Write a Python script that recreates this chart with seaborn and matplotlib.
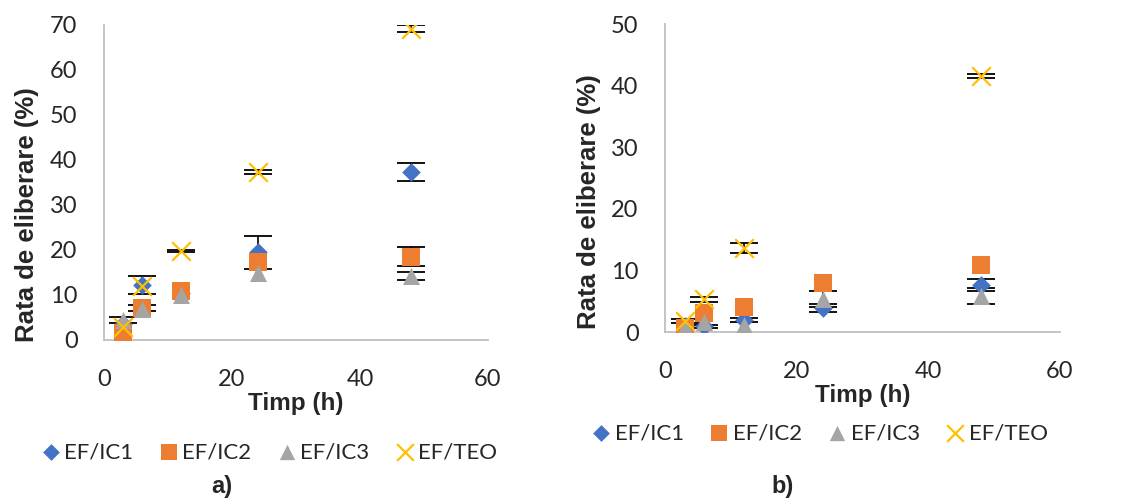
import numpy as np
import pandas as pd
import matplotlib
matplotlib.use("Agg")
import matplotlib.pyplot as plt
import seaborn as sns

# Timpi de prelevare (h)
timp = [3, 6, 12, 24, 48]
serii = ["EF/IC1", "EF/IC2", "EF/IC3", "EF/TEO"]
na = np.nan  # bara de eroare ascunsa sub marker

# Panoul a) - rata de eliberare (%) si abaterea standard
a_ic1 = [3.5, 12.3, 10.5, 19.5, 37.4]
a_ic2 = [1.5, 7.1, 10.9, 17.4, 18.5]
a_ic3 = [4.4, 6.8, 10.0, 14.9, 14.3]
a_teo = [2.8, 12.0, 19.8, 37.3, 69.2]
a_ic1_err = [na, 2.0, na, 3.7, 2.0]
a_ic2_err = [na, 0.6, na, na, 2.1]
a_ic3_err = [0.6, na, na, na, 0.9]
a_teo_err = [na, na, 0.3, 0.4, 0.7]

# Panoul b)
b_ic1 = [1.0, 0.9, 2.0, 3.9, 7.6]
b_ic2 = [0.6, 3.1, 4.1, 8.0, 10.9]
b_ic3 = [0.8, 1.6, 1.2, 5.4, 5.8]
b_teo = [1.8, 5.3, 13.6, na, 41.6]
b_ic1_err = [na, 0.3, 0.3, 0.6, 1.0]
b_ic2_err = [na, na, na, na, na]
b_ic3_err = [na, na, na, 1.3, 1.3]
b_teo_err = [0.3, 0.4, 0.8, na, 0.3]

culori = ["#4472C4", "#ED7D31", "#A5A5A5", "#FFC000"]
markere = ["D", "s", "^", "x"]
marimi = [90, 160, 150, 180]

sns.set_style("white")
plt.rcParams['font.family'] = ['Lato', 'DejaVu Sans']
bold_font = ["Liberation Sans", "DejaVu Sans"]

fig = plt.figure(figsize=(11.28, 4.98), dpi=100)
ax_a = fig.add_axes([0.0922, 0.3173, 0.3404, 0.6325])
ax_b = fig.add_axes([0.5895, 0.3333, 0.3502, 0.6185])


def deseneaza(ax, valori, erori, ymax, ylab_xy):
    # barele de eroare sub markere
    for y, err in zip(valori, erori):
        ax.errorbar(timp, y, yerr=err, fmt="none", ecolor="black",
                    elinewidth=1.2, capsize=10, capthick=1.3, zorder=2)
    for i, (nume, y, c, m, s) in enumerate(zip(serii, valori, culori, markere, marimi)):
        df = pd.DataFrame({"Timp": timp, "Rata": y})
        sns.scatterplot(data=df, x="Timp", y="Rata", ax=ax, color=c, marker=m,
                        s=s, linewidth=1.6 if m == "x" else 0, label=nume,
                        legend=False, zorder=3 + i)
    ax.set_xlim(0, 60)
    ax.set_ylim(0, ymax)
    ax.set_xticks([0, 20, 40, 60])
    ax.set_yticks(np.arange(0, ymax + 1, 10))
    for side in ["top", "right"]:
        ax.spines[side].set_visible(False)
    for side in ["left", "bottom"]:
        ax.spines[side].set_color("#BFBFBF")
        ax.spines[side].set_linewidth(1.3)
    ax.tick_params(axis="both", which="both", direction="out", length=8,
                   width=1.3, color="#BFBFBF", labelsize=17, labelcolor="#262626")
    ax.tick_params(axis="x", pad=13)
    ax.tick_params(axis="y", pad=11)
    ax.set_xlabel("Timp (h)", fontsize=17.5, fontweight="bold",
                  family=bold_font, labelpad=1)
    ax.set_ylabel("Rata de eliberare (%)", fontsize=18.5, fontweight="bold",
                  family=bold_font)
    ax.yaxis.set_label_coords(*ylab_xy)


deseneaza(ax_a, [a_ic1, a_ic2, a_ic3, a_teo],
          [a_ic1_err, a_ic2_err, a_ic3_err, a_teo_err], 70, (-0.17, 0.397))
deseneaza(ax_b, [b_ic1, b_ic2, b_ic3, b_teo],
          [b_ic1_err, b_ic2_err, b_ic3_err, b_teo_err], 50, (-0.163, 0.422))

# Legende sub fiecare grafic
for ax, x0, y0 in [(ax_a, 0.238, 0.092), (ax_b, 0.726, 0.13)]:
    h, l = ax.get_legend_handles_labels()
    fig.legend(h, l, loc="center", bbox_to_anchor=(x0, y0), ncol=4,
               frameon=False, fontsize=16, handletextpad=0.1, handlelength=1.0,
               columnspacing=1.1, markerscale=0.9, labelcolor="#262626")

fig.text(0.197, 0.0, "a)", fontsize=17, fontweight="bold",
         family=bold_font, ha="center", va="bottom")
fig.text(0.694, 0.0, "b)", fontsize=17, fontweight="bold",
         family=bold_font, ha="center", va="bottom")

fig.savefig("out.png", dpi=100)
